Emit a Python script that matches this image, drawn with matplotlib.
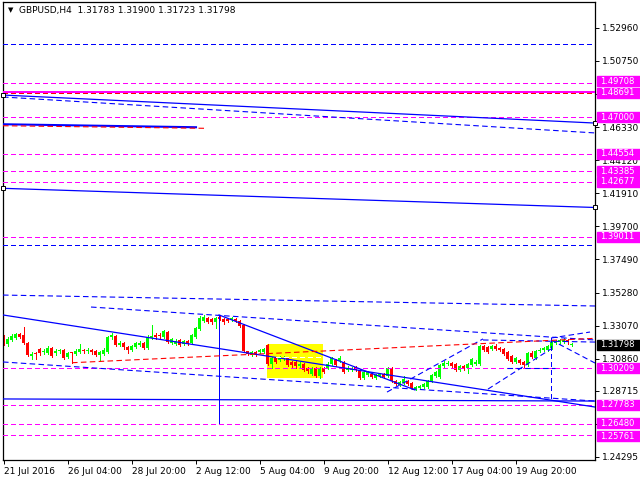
import numpy as np
import matplotlib.pyplot as plt
from matplotlib.patches import Rectangle

# GBPUSD H4 candles (bar 0 = left edge)
opens = [1.3232, 1.3185, 1.3212, 1.3225, 1.3252, 1.3245, 1.3192, 1.3105, 1.3125, 1.3152,
         1.3132, 1.3125, 1.3158, 1.3125, 1.3138, 1.3145, 1.3098, 1.3127, 1.3118, 1.3132,
         1.3145, 1.3135, 1.3145, 1.3138, 1.3112, 1.3118, 1.3132, 1.3232, 1.3239, 1.3178,
         1.3192, 1.3165, 1.3145, 1.3165, 1.3178, 1.3192, 1.3158, 1.3225, 1.3245, 1.3245,
         1.3232, 1.3265, 1.3192, 1.3185, 1.3212, 1.3185, 1.3205, 1.3192, 1.3232, 1.3285,
         1.3339, 1.3359, 1.3352, 1.3332, 1.3365, 1.3352, 1.3352, 1.3345, 1.3352, 1.3339,
         1.3312, 1.3135, 1.3112, 1.3132, 1.3132, 1.3132, 1.3178, 1.3051, 1.3092, 1.3078,
         1.3085, 1.3092, 1.3065, 1.3065, 1.3038, 1.3051, 1.3025, 1.2985, 1.3025, 1.2971,
         1.3025, 1.3025, 1.3051, 1.3078, 1.3072, 1.3065, 1.3011, 1.3011, 1.3031, 1.3011,
         1.2958, 1.2978, 1.2985, 1.2958, 1.2971, 1.2985, 1.2971, 1.3025, 1.2938, 1.2911,
         1.2925, 1.2938, 1.2925, 1.2884, 1.2891, 1.2898, 1.2898, 1.2938, 1.2971, 1.2965,
         1.3038, 1.3051, 1.3058, 1.3051, 1.3011, 1.3038, 1.3025, 1.3045, 1.3051, 1.3051,
         1.3172, 1.3165, 1.3152, 1.3172, 1.3158, 1.3152, 1.3132, 1.3105, 1.3065, 1.3078,
         1.3065, 1.3045, 1.3125, 1.3092, 1.3138, 1.3145, 1.3145, 1.3158, 1.3192, 1.3198,
         1.3198, 1.3212, 1.31783]
highs = [1.3245, 1.3232, 1.3252, 1.3259, 1.3259, 1.3299, 1.3198, 1.3132, 1.3132, 1.3158,
         1.3152, 1.3172, 1.3165, 1.3152, 1.3152, 1.3152, 1.3132, 1.3132, 1.3152, 1.3185,
         1.3152, 1.3158, 1.3152, 1.3145, 1.3138, 1.3158, 1.3239, 1.3259, 1.3245, 1.3205,
         1.3198, 1.3172, 1.3178, 1.3198, 1.3205, 1.3198, 1.3245, 1.3312, 1.3259, 1.3259,
         1.3279, 1.3272, 1.3225, 1.3218, 1.3218, 1.3212, 1.3212, 1.3252, 1.3299, 1.3372,
         1.3379, 1.3365, 1.3359, 1.3365, 1.3379, 1.3359, 1.3359, 1.3365, 1.3359, 1.3345,
         1.3319, 1.3138, 1.3138, 1.3138, 1.3152, 1.3158, 1.3185, 1.3098, 1.3098, 1.3105,
         1.3105, 1.3098, 1.3072, 1.3072, 1.3065, 1.3058, 1.3031, 1.3031, 1.3031, 1.3031,
         1.3031, 1.3065, 1.3098, 1.3085, 1.3105, 1.3072, 1.3038, 1.3031, 1.3038, 1.3018,
         1.3005, 1.3005, 1.2991, 1.2985, 1.2991, 1.2991, 1.3031, 1.3031, 1.2945, 1.2938,
         1.2971, 1.2945, 1.2931, 1.2905, 1.2911, 1.2925, 1.2945, 1.2985, 1.3005, 1.3051,
         1.3072, 1.3072, 1.3065, 1.3058, 1.3045, 1.3045, 1.3058, 1.3092, 1.3078, 1.3178,
         1.3178, 1.3172, 1.3178, 1.3185, 1.3165, 1.3158, 1.3138, 1.3112, 1.3098, 1.3085,
         1.3072, 1.3132, 1.3138, 1.3145, 1.3158, 1.3165, 1.3178, 1.3205, 1.3212, 1.3218,
         1.3225, 1.3218, 1.31900]
lows = [1.3178, 1.3172, 1.3205, 1.3218, 1.3225, 1.3185, 1.3105, 1.3085, 1.3085, 1.3112,
        1.3118, 1.3118, 1.3098, 1.3112, 1.3125, 1.3085, 1.3092, 1.3058, 1.3112, 1.3125,
        1.3125, 1.3125, 1.3118, 1.3105, 1.3072, 1.3112, 1.3125, 1.3218, 1.3172, 1.3172,
        1.3152, 1.3125, 1.3138, 1.3158, 1.3172, 1.3152, 1.3152, 1.3218, 1.3218, 1.3225,
        1.3225, 1.3192, 1.3185, 1.3178, 1.3172, 1.3178, 1.3178, 1.3185, 1.3225, 1.3279,
        1.3332, 1.3325, 1.3319, 1.3292, 1.3345, 1.3319, 1.3332, 1.3339, 1.3332, 1.3299,
        1.3132, 1.3112, 1.3105, 1.3105, 1.3125, 1.3125, 1.3045, 1.3025, 1.3058, 1.3072,
        1.3078, 1.3038, 1.3031, 1.3025, 1.3031, 1.3005, 1.2991, 1.2978, 1.2965, 1.2958,
        1.2991, 1.3018, 1.3045, 1.3038, 1.3065, 1.2991, 1.3005, 1.3005, 1.3005, 1.2951,
        1.2951, 1.2971, 1.2958, 1.2951, 1.2965, 1.2958, 1.2965, 1.2931, 1.2911, 1.2905,
        1.2918, 1.2911, 1.2884, 1.2878, 1.2884, 1.2891, 1.2891, 1.2931, 1.2965, 1.2958,
        1.3031, 1.3045, 1.3031, 1.3005, 1.3005, 1.3011, 1.2991, 1.3038, 1.3045, 1.3045,
        1.3138, 1.3125, 1.3145, 1.3145, 1.3138, 1.3112, 1.3078, 1.3058, 1.3058, 1.3051,
        1.3031, 1.3038, 1.3092, 1.3085, 1.3132, 1.3138, 1.3138, 1.3152, 1.3185, 1.3185,
        1.3192, 1.3185, 1.31723]
closes = [1.3192, 1.3218, 1.3239, 1.3252, 1.3232, 1.3192, 1.3112, 1.3118, 1.3118, 1.3125,
          1.3138, 1.3158, 1.3105, 1.3138, 1.3145, 1.3092, 1.3125, 1.3122, 1.3138, 1.3152,
          1.3135, 1.3145, 1.3132, 1.3112, 1.3132, 1.3145, 1.3232, 1.3245, 1.3178, 1.3192,
          1.3165, 1.3145, 1.3172, 1.3192, 1.3192, 1.3158, 1.3232, 1.3239, 1.3232, 1.3239,
          1.3272, 1.3198, 1.3218, 1.3205, 1.3178, 1.3205, 1.3192, 1.3245, 1.3292, 1.3359,
          1.3365, 1.3332, 1.3332, 1.3359, 1.3352, 1.3332, 1.3339, 1.3359, 1.3339, 1.3305,
          1.3138, 1.3118, 1.3132, 1.3112, 1.3145, 1.3152, 1.3051, 1.3092, 1.3065, 1.3098,
          1.3092, 1.3045, 1.3045, 1.3038, 1.3051, 1.3011, 1.3005, 1.3025, 1.2971, 1.3025,
          1.2998, 1.3051, 1.3092, 1.3045, 1.3092, 1.2998, 1.3025, 1.3025, 1.3011, 1.2958,
          1.2998, 1.2998, 1.2965, 1.2978, 1.2985, 1.2965, 1.3025, 1.2938, 1.2918, 1.2931,
          1.2951, 1.2918, 1.2891, 1.2898, 1.2905, 1.2918, 1.2938, 1.2978, 1.2998, 1.3045,
          1.3058, 1.3058, 1.3038, 1.3011, 1.3038, 1.3018, 1.3051, 1.3085, 1.3065, 1.3172,
          1.3145, 1.3132, 1.3172, 1.3152, 1.3145, 1.3118, 1.3085, 1.3065, 1.3092, 1.3058,
          1.3045, 1.3125, 1.3098, 1.3138, 1.3145, 1.3158, 1.3172, 1.3198, 1.3198, 1.3212,
          1.3212, 1.3198, 1.31798]

x_tick_bars = [0, 16, 32, 48, 64, 80, 96, 112, 128]
x_tick_labels = ["21 Jul 2016", "26 Jul 04:00", "28 Jul 20:00", "2 Aug 12:00", "5 Aug 04:00",
                 "9 Aug 20:00", "12 Aug 12:00", "17 Aug 04:00", "19 Aug 20:00"]
y_ticks = [1.52960, 1.50750, 1.48540, 1.46330, 1.44120, 1.41910, 1.39700, 1.37490,
           1.35280, 1.33070, 1.30860, 1.28715, 1.26505, 1.24295]
hidden_ticks = [1.48540, 1.26505]   # covered by the price tags

# magenta horizontal levels: where drawn, and their price tags
level_prices = [1.4928, 1.48691, 1.47000, 1.44554, 1.43385, 1.42677, 1.39011,
                1.30209, 1.27783, 1.26480, 1.25761]
level_tags = ["1.49708", "1.48691", "1.47000", "1.44554", "1.43385", "1.42677", "1.39011",
              "1.30209", "1.27783", "1.26480", "1.25761"]
last_price = 1.31798
blue_hlines = [1.5188, 1.3845]
red_hlines = [1.4861]

# trend lines (bar0, price0, bar1, price1)
blue_solid = [(-0.15, 1.4847, 147.85, 1.4660), (-0.15, 1.4224, 147.85, 1.4096),
              (-0.15, 1.3378, 147.85, 1.2763), (53.85, 1.3378, 102.85, 1.2877),
              (-0.15, 1.2817, 147.85, 1.2803)]
blue_vertical = [(53.85, 1.3378, 1.2656)]
blue_thick = [(-0.15, 1.4652, 48.1, 1.4632)]
blue_dashed = [(-0.15, 1.4834, 147.85, 1.4594), (-0.15, 1.3511, 147.85, 1.3438),
               (21.85, 1.3431, 147.85, 1.3211), (-0.15, 1.3064, 147.85, 1.2803),
               (95.85, 1.2863, 119.85, 1.3218), (121.1, 1.2883, 136.85, 1.3151),
               (136.85, 1.3224, 146.6, 1.3264), (136.85, 1.3211, 147.85, 1.3057),
               (119.85, 1.3211, 147.85, 1.3197), (125.85, 1.3027, 137.85, 1.3027)]
blue_dashed_vertical = [(136.85, 1.3224, 1.2803)]
red_dashed = [(-0.15, 1.4642, 50.1, 1.4625), (17.1, 1.3059, 147.85, 1.3222)]
white_dashed = [(68, 1.3097, 79.85, 1.3097)]
anchors = [(-0.15, 1.4847), (147.85, 1.4660), (-0.15, 1.4224), (147.85, 1.4096)]
box_bars = (65.85, 79.85)
box_prices = (1.2957, 1.3184)

W, H = 640, 480
fig = plt.figure(figsize=(6.4, 4.8), dpi=100)
ax = fig.add_axes([3 / W, 20 / H, 592 / W, 458 / H])
ax.set_xlim(-0.15, 147.85)
ax.set_ylim(1.24092, 1.54686)

dash = (0, (5, 3))
blue, red, mag = "#0000FF", "#FF0000", "#FF00FF"
thin = 0.72   # one pixel

# yellow rectangle behind the candles
ax.add_patch(Rectangle((box_bars[0], box_prices[0]), box_bars[1] - box_bars[0],
                       box_prices[1] - box_prices[0], color="#FFFF00", lw=0, zorder=1))

# candles
k = np.arange(len(opens))
o = np.array(opens)
c = np.array(closes)
col = np.where(c >= o, "#00FF00", "#FF0000")
ax.vlines(k, lows, highs, colors=col, lw=thin, zorder=2, antialiased=False)
ax.bar(k, np.maximum(np.abs(c - o), 0.0007), bottom=np.minimum(o, c), width=0.78,
       color=col, linewidth=0, zorder=2, antialiased=False)

# horizontal / vertical lines (crisp)
for p in level_prices:
    if p == 1.48691:
        ax.axhline(p, color=mag, lw=1.44, zorder=3, antialiased=False)
    else:
        ax.axhline(p, color=mag, lw=thin, ls=dash, zorder=3, antialiased=False)
for p in blue_hlines:
    ax.axhline(p, color=blue, lw=thin, ls=dash, zorder=3, antialiased=False)
for p in red_hlines:
    ax.axhline(p, color=red, lw=thin, ls=dash, zorder=3, antialiased=False)
for x0, y0, y1 in blue_vertical:
    ax.plot([x0, x0], [y0, y1], color=blue, lw=thin, zorder=3, antialiased=False)
for x0, y0, y1 in blue_dashed_vertical:
    ax.plot([x0, x0], [y0, y1], color=blue, lw=thin, ls=dash, zorder=3, antialiased=False)

# sloped trend lines
for x0, y0, x1, y1 in blue_solid:
    ax.plot([x0, x1], [y0, y1], color=blue, lw=0.9, zorder=3)
for x0, y0, x1, y1 in blue_thick:
    ax.plot([x0, x1], [y0, y1], color=blue, lw=1.5, zorder=3)
for x0, y0, x1, y1 in blue_dashed:
    ax.plot([x0, x1], [y0, y1], color=blue, lw=0.8, ls=dash, zorder=3)
for x0, y0, x1, y1 in red_dashed:
    ax.plot([x0, x1], [y0, y1], color=red, lw=0.8, ls=dash, zorder=3)
for x0, y0, x1, y1 in white_dashed:
    ax.plot([x0, x1], [y0, y1], color="white", lw=thin, ls=dash, zorder=3, antialiased=False)
for x0, y0 in anchors:
    ax.plot(x0, y0, marker="s", ms=3, mfc="white", mec="black", mew=0.7,
            clip_on=False, zorder=5)

# axes look
for s in ax.spines.values():
    s.set_color("black")
    s.set_linewidth(0.9)
ax.yaxis.tick_right()
ax.set_yticks(y_ticks)
ax.set_yticklabels(["" if v in hidden_ticks else "%.5f" % v for v in y_ticks])
ax.tick_params(axis="y", length=3, width=0.7, pad=2, labelsize=6.5, colors="black")
ax.set_xticks(x_tick_bars)
ax.set_xticklabels(x_tick_labels, ha="left")
ax.tick_params(axis="x", length=3, width=0.7, pad=2, labelsize=6.5, colors="black")

# price tags on the right scale
fig.canvas.draw()
def tag(price, text, bg, dy=0):
    ypx = ax.transData.transform((0, price))[1] + dy
    fig.patches.append(Rectangle((597 / W, (ypx - 5) / H), 43 / W, 10 / H,
                                 transform=fig.transFigure, color=bg, zorder=1))
    fig.text(600 / W, ypx / H, text, color="white", fontsize=6.0, va="center",
             ha="left", zorder=3)

tag_shift = {"1.49708": 1.5, "1.48691": -1.0, "1.26480": 1.0, "1.25761": -1.0}
for p, t in zip(level_prices, level_tags):
    tag(p, t, mag, tag_shift.get(t, 0))
tag(last_price, "%.5f" % last_price, "black")

# header
fig.text(8 / W, 1 - 10 / H, "\u25bc", fontsize=5, va="center", ha="left")
fig.text(19 / W, 1 - 10 / H, "GBPUSD,H4  1.31783 1.31900 1.31723 1.31798",
         fontsize=6.5, va="center", ha="left")

plt.savefig("out.png", dpi=100)
